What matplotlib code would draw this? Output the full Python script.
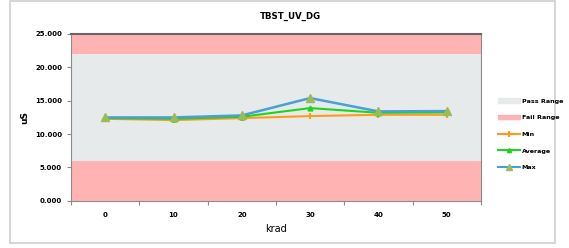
import numpy as np
import matplotlib
matplotlib.use('Agg')
import matplotlib.pyplot as plt
from matplotlib.patches import Rectangle, Patch
from matplotlib.lines import Line2D

#%% data
krad = ['0', '10', '20', '30', '40', '50']
min_vals = [12.3, 12.1, 12.4, 12.7, 12.9, 12.9]
avg_vals = [12.4, 12.3, 12.6, 13.9, 13.2, 13.25]
max_vals = [12.5, 12.5, 12.8, 15.4, 13.4, 13.45]
pass_low, pass_high = 6, 22
y_min, y_max = 0, 25

#%% plot
fig = plt.figure(figsize=(5.69, 2.48), dpi=100)
ax = fig.add_axes([0.125, 0.19, 0.72, 0.673])

# figure frame
fig.patches.append(Rectangle((0.018, 0.02), 0.958, 0.975, transform=fig.transFigure,
                             fill=False, edgecolor='#d0d0d0', linewidth=1.2))

x = np.arange(len(krad))
ax.axhspan(y_min, pass_low, color='#ffb3b3', lw=0)
ax.axhspan(pass_low, pass_high, color='#e6eaea', lw=0)
ax.axhspan(pass_high, y_max, color='#ffb3b3', lw=0)

ax.plot(x, min_vals, color='#ff9a1a', lw=1.5, marker='|', ms=4, mew=1.5)
ax.plot(x, avg_vals, color='#1ed41e', lw=1.5, marker='^', ms=3.5)
ax.plot(x, max_vals, color='#4a9fd4', lw=1.8, marker='^', ms=6,
        mfc='#9bbb59', mec='#9bbb59')

ax.set_xlim(-0.5, 5.5)
ax.set_ylim(y_min, y_max)
ax.set_yticks(np.arange(0, 26, 5))
ax.set_yticklabels(['%.3f' % v for v in np.arange(0, 26, 5)])
ax.set_xticks(np.arange(-0.5, 6, 1))
ax.set_xticklabels([])
ax.set_xticks(x, minor=True)
ax.set_xticklabels(krad, minor=True)
ax.tick_params(axis='x', which='minor', length=0, pad=8)
ax.tick_params(axis='both', which='major', length=3, color='#888888', labelsize=5)
ax.tick_params(axis='x', which='minor', labelsize=5)
for lab in ax.get_xticklabels(minor=True) + ax.get_yticklabels():
    lab.set_fontweight('bold')

for s in ['left', 'bottom', 'right']:
    ax.spines[s].set_color('#8c8c8c')
ax.spines['top'].set_color('#666666')
ax.spines['top'].set_linewidth(1.5)

ax.set_xlabel('krad', fontsize=7, labelpad=4)
ax.set_ylabel('uS', fontsize=6.5, fontweight='bold', labelpad=4)
fig.text(0.511, 0.925, 'TBST_UV_DG', fontsize=6.2, fontweight='bold', ha='center')

handles = [Patch(color='#e6eaea'), Patch(color='#ffb3b3'),
           Line2D([], [], color='#ff9a1a', lw=1.5, marker='|', ms=4, mew=1.5),
           Line2D([], [], color='#1ed41e', lw=1.5, marker='^', ms=3),
           Line2D([], [], color='#4a9fd4', lw=1.5, marker='^', ms=4, mfc='#9bbb59', mec='#9bbb59')]
leg = fig.legend(handles, ['Pass Range', 'Fail Range', 'Min', 'Average', 'Max'],
                 loc='upper left', bbox_to_anchor=(0.865, 0.627), frameon=False,
                 prop={'size': 4.6, 'weight': 'bold'}, handlelength=3.4,
                 labelspacing=1.75, handletextpad=0.3)

plt.savefig('out.png', dpi=100)
